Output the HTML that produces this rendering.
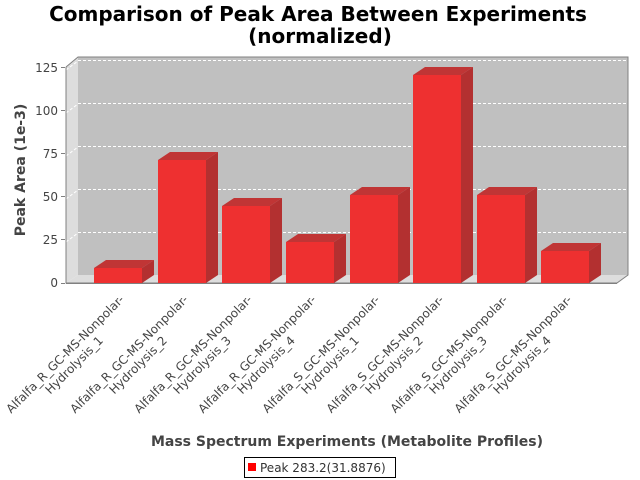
<!DOCTYPE html>
<html><head><style>body{margin:0;background:#fff}svg{display:block;font-family:"DejaVu Sans","Liberation Sans",sans-serif}</style></head>
<body>
<svg width="640" height="480" xmlns="http://www.w3.org/2000/svg">
<text x="318" y="21" font-size="20" font-weight="bold" text-anchor="middle" fill="#000">Comparison of Peak Area Between Experiments</text>
<text x="320" y="43" font-size="20" font-weight="bold" text-anchor="middle" fill="#000">(normalized)</text>
<polygon points="66,67 78,57 78,275 66,283" fill="#dddddd"/>
<polygon points="66,283 78,275 628,275 617,283" fill="#dddddd"/>
<rect x="78" y="57" width="550" height="218" fill="#c0c0c0"/>
<g stroke="#fff" stroke-dasharray="3,2" stroke-width="1">
<line x1="78" y1="60.5" x2="628" y2="60.5"/><line x1="66" y1="70" x2="78" y2="61"/>
<line x1="78" y1="103.5" x2="628" y2="103.5"/><line x1="66" y1="113" x2="78" y2="104"/>
<line x1="78" y1="146.5" x2="628" y2="146.5"/><line x1="66" y1="156" x2="78" y2="147"/>
<line x1="78" y1="189.5" x2="628" y2="189.5"/><line x1="66" y1="199" x2="78" y2="190"/>
<line x1="78" y1="232.5" x2="628" y2="232.5"/><line x1="66" y1="242" x2="78" y2="233"/>
</g>
<polyline points="66,67 78,57 628,57 628,275 617,283 66,283 66,67" fill="none" stroke="#808080"/>
<g>
<g><polygon points="94,268 106,260 154,260 142,268" fill="#c03535"/><polygon points="142,268 154,260 154,275 142,283" fill="#b33030"/><rect x="94" y="268" width="48" height="15" fill="#ee3030"/></g>
<g><polygon points="158,160 170,152 218,152 206,160" fill="#c03535"/><polygon points="206,160 218,152 218,275 206,283" fill="#b33030"/><rect x="158" y="160" width="48" height="123" fill="#ee3030"/></g>
<g><polygon points="222,206 234,198 282,198 270,206" fill="#c03535"/><polygon points="270,206 282,198 282,275 270,283" fill="#b33030"/><rect x="222" y="206" width="48" height="77" fill="#ee3030"/></g>
<g><polygon points="286,242 298,234 346,234 334,242" fill="#c03535"/><polygon points="334,242 346,234 346,275 334,283" fill="#b33030"/><rect x="286" y="242" width="48" height="41" fill="#ee3030"/></g>
<g><polygon points="350,195 362,187 410,187 398,195" fill="#c03535"/><polygon points="398,195 410,187 410,275 398,283" fill="#b33030"/><rect x="350" y="195" width="48" height="88" fill="#ee3030"/></g>
<g><polygon points="413,75 425,67 473,67 461,75" fill="#c03535"/><polygon points="461,75 473,67 473,275 461,283" fill="#b33030"/><rect x="413" y="75" width="48" height="208" fill="#ee3030"/></g>
<g><polygon points="477,195 489,187 537,187 525,195" fill="#c03535"/><polygon points="525,195 537,187 537,275 525,283" fill="#b33030"/><rect x="477" y="195" width="48" height="88" fill="#ee3030"/></g>
<g><polygon points="541,251 553,243 601,243 589,251" fill="#c03535"/><polygon points="589,251 601,243 601,275 589,283" fill="#b33030"/><rect x="541" y="251" width="48" height="32" fill="#ee3030"/></g>
</g>
<line x1="66" y1="283.5" x2="617" y2="283.5" stroke="#808080"/>
<g font-size="12" fill="#444" text-anchor="end">
<text x="58" y="72">125</text><text x="58" y="115">100</text><text x="58" y="158">75</text><text x="58" y="201">50</text><text x="58" y="244">25</text><text x="58" y="287">0</text>
</g>
<g stroke="#808080"><line x1="61" y1="67.5" x2="65" y2="67.5"/><line x1="61" y1="110.5" x2="65" y2="110.5"/><line x1="61" y1="153.5" x2="65" y2="153.5"/><line x1="61" y1="196.5" x2="65" y2="196.5"/><line x1="61" y1="239.5" x2="65" y2="239.5"/><line x1="61" y1="283.5" x2="65" y2="283.5"/></g>
<text transform="translate(25,170) rotate(-90)" font-size="14" font-weight="bold" fill="#444" text-anchor="middle">Peak Area (1e-3)</text>
<g font-size="12" fill="#444" text-anchor="middle">
<text transform="translate(68,357) rotate(-45)">Alfalfa_R_GC-MS-Nonpolar-</text><text transform="translate(77,368) rotate(-45)">Hydrolysis_1</text>
<text transform="translate(132,357) rotate(-45)">Alfalfa_R_GC-MS-Nonpolar-</text><text transform="translate(141,368) rotate(-45)">Hydrolysis_2</text>
<text transform="translate(196,357) rotate(-45)">Alfalfa_R_GC-MS-Nonpolar-</text><text transform="translate(205,368) rotate(-45)">Hydrolysis_3</text>
<text transform="translate(260,357) rotate(-45)">Alfalfa_R_GC-MS-Nonpolar-</text><text transform="translate(269,368) rotate(-45)">Hydrolysis_4</text>
<text transform="translate(324,357) rotate(-45)">Alfalfa_S_GC-MS-Nonpolar-</text><text transform="translate(333,368) rotate(-45)">Hydrolysis_1</text>
<text transform="translate(388,357) rotate(-45)">Alfalfa_S_GC-MS-Nonpolar-</text><text transform="translate(397,368) rotate(-45)">Hydrolysis_2</text>
<text transform="translate(452,357) rotate(-45)">Alfalfa_S_GC-MS-Nonpolar-</text><text transform="translate(461,368) rotate(-45)">Hydrolysis_3</text>
<text transform="translate(516,357) rotate(-45)">Alfalfa_S_GC-MS-Nonpolar-</text><text transform="translate(525,368) rotate(-45)">Hydrolysis_4</text>
</g>
<text x="347" y="446" font-size="14" font-weight="bold" fill="#444" text-anchor="middle">Mass Spectrum Experiments (Metabolite Profiles)</text>
<rect x="244.5" y="457.5" width="151" height="20" fill="#fff" stroke="#000"/>
<rect x="248" y="463" width="8" height="8" fill="#ff0000"/>
<text x="260" y="472" font-size="12" fill="#333">Peak 283.2(31.8876)</text>
</svg>
</body></html>
